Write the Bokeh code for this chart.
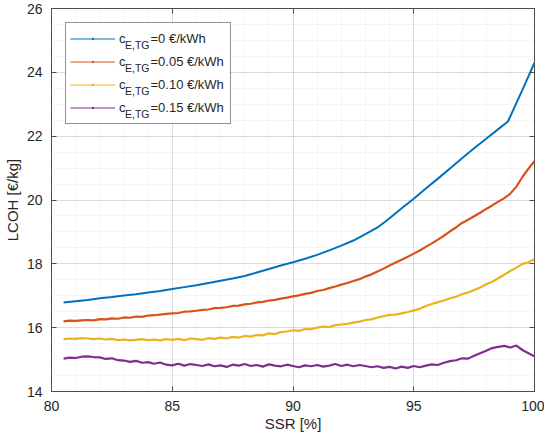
from bokeh.plotting import figure
from bokeh.models import (Range1d, SingleIntervalTicker, LinearAxis, CustomJSTickFormatter,
                          Legend, LegendItem, Label, BoxAnnotation)
from bokeh.embed import file_html
from bokeh.resources import INLINE

# ---------------- data ----------------
ssr_blue = [80.5, 81, 81.5, 82, 82.5, 83, 83.5, 84, 84.5, 85, 85.5, 86, 86.5, 87, 87.5, 88,
            88.5, 89, 89.5, 90, 90.5, 91, 91.5, 92, 92.5, 93, 93.5, 93.8, 94, 94.5, 95, 95.5,
            96, 96.5, 97, 97.5, 98, 98.5, 98.9, 99.5, 100]
lcoh_000 = [16.79, 16.83, 16.87, 16.92, 16.96, 17.01, 17.05, 17.10, 17.15, 17.21, 17.27, 17.33,
            17.40, 17.47, 17.54, 17.62, 17.73, 17.84, 17.95, 18.05, 18.16, 18.28, 18.42, 18.57,
            18.73, 18.93, 19.14, 19.31, 19.43, 19.74, 20.04, 20.36, 20.67, 20.99, 21.31, 21.62,
            21.92, 22.22, 22.46, 23.45, 24.30]

ssr = [80.5, 80.75, 81, 81.25, 81.5, 81.75, 82, 82.25, 82.5, 82.75, 83, 83.25, 83.5, 83.75,
       84, 84.25, 84.5, 84.75, 85, 85.25, 85.5, 85.75, 86, 86.25, 86.5, 86.75, 87, 87.25,
       87.5, 87.75, 88, 88.25, 88.5, 88.75, 89, 89.25, 89.5, 89.75, 90, 90.25, 90.5, 90.75,
       91, 91.25, 91.5, 91.75, 92, 92.25, 92.5, 92.75, 93, 93.25, 93.5, 93.75, 94, 94.25,
       94.5, 94.75, 95, 95.25, 95.5, 95.75, 96, 96.25, 96.5, 96.75, 97, 97.25, 97.5, 97.75,
       98, 98.25, 98.5, 98.75, 99, 99.25, 99.5, 99.75, 100]

lcoh_005 = [16.20, 16.22, 16.21, 16.23, 16.24, 16.23, 16.27, 16.26, 16.29, 16.28, 16.32, 16.31,
            16.35, 16.34, 16.38, 16.39, 16.41, 16.43, 16.45, 16.46, 16.50, 16.51, 16.53, 16.56,
            16.57, 16.61, 16.62, 16.64, 16.68, 16.69, 16.73, 16.75, 16.79, 16.81, 16.85, 16.87,
            16.91, 16.94, 16.98, 17.01, 17.06, 17.09, 17.15, 17.18, 17.24, 17.29, 17.35, 17.40,
            17.46, 17.52, 17.60, 17.67, 17.76, 17.85, 17.95, 18.04, 18.13, 18.22, 18.32, 18.42,
            18.53, 18.64, 18.76, 18.88, 19.02, 19.14, 19.28, 19.38, 19.49, 19.60, 19.72, 19.83,
            19.95, 20.06, 20.20, 20.42, 20.72, 20.98, 21.22]

lcoh_010 = [15.64, 15.66, 15.65, 15.67, 15.66, 15.64, 15.66, 15.63, 15.65, 15.61, 15.63, 15.60,
            15.62, 15.64, 15.61, 15.63, 15.60, 15.64, 15.62, 15.65, 15.61, 15.66, 15.64, 15.62,
            15.67, 15.65, 15.69, 15.66, 15.71, 15.69, 15.74, 15.72, 15.77, 15.76, 15.82, 15.80,
            15.86, 15.88, 15.92, 15.90, 15.96, 15.95, 16.00, 16.03, 16.02, 16.08, 16.10, 16.12,
            16.16, 16.19, 16.24, 16.26, 16.32, 16.36, 16.40, 16.41, 16.45, 16.49, 16.54, 16.59,
            16.68, 16.74, 16.80, 16.85, 16.92, 16.97, 17.05, 17.10, 17.18, 17.26, 17.36, 17.44,
            17.55, 17.66, 17.78, 17.88, 18.00, 18.05, 18.14]

lcoh_015 = [15.03, 15.06, 15.05, 15.09, 15.10, 15.08, 15.07, 15.02, 15.04, 14.98, 14.97, 14.93,
            14.96, 14.90, 14.92, 14.87, 14.91, 14.84, 14.82, 14.87, 14.81, 14.86, 14.83, 14.80,
            14.85, 14.79, 14.82, 14.77, 14.84, 14.81, 14.86, 14.80, 14.83, 14.78, 14.85, 14.81,
            14.79, 14.84, 14.80, 14.76, 14.82, 14.79, 14.83, 14.78, 14.81, 14.86, 14.80, 14.84,
            14.79, 14.83, 14.80, 14.76, 14.79, 14.74, 14.77, 14.72, 14.78, 14.74, 14.80, 14.76,
            14.81, 14.85, 14.83, 14.90, 14.95, 14.98, 15.04, 15.03, 15.12, 15.20, 15.28, 15.36,
            15.40, 15.43, 15.38, 15.44, 15.30, 15.20, 15.10]

legend_main = ["=0 €/kWh", "=0.05 €/kWh", "=0.10 €/kWh", "=0.15 €/kWh"]
legend_sub = "E,TG"
colors = ["#0072BD", "#D95319", "#EDB120", "#7E2F8E"]

x_ticks_interval = 5
y_ticks_interval = 2

# ---------------- figure ----------------
FONT = "Liberation Sans"
TXT = "#262626"
AXC = "#4d4d4d"

FW, FH = 483, 383
TOP = 8
p = figure(frame_width=FW, frame_height=FH, output_backend="svg", toolbar_location=None,
           x_range=Range1d(80, 100), y_range=Range1d(14, 26),
           min_border_left=41, min_border_right=10, min_border_top=TOP, min_border_bottom=40,
           background_fill_color="white", border_fill_color="white")

p.outline_line_color = AXC
p.outline_line_width = 1

xt = SingleIntervalTicker(interval=x_ticks_interval, num_minor_ticks=5)
yt = SingleIntervalTicker(interval=y_ticks_interval, num_minor_ticks=4)
p.xaxis.ticker = xt
p.yaxis.ticker = yt

for ax in (p.xaxis[0], p.yaxis[0]):
    ax.major_tick_in = 5
    ax.major_tick_out = 0
    ax.minor_tick_line_color = None
    ax.axis_line_color = AXC
    ax.major_tick_line_color = AXC
    ax.major_label_text_font = FONT
    ax.major_label_text_font_size = "14px"
    ax.major_label_text_color = TXT
    ax.axis_label_text_font = FONT
    ax.axis_label_text_font_size = "15px"
    ax.axis_label_text_font_style = "normal"
    ax.axis_label_text_color = TXT

p.xaxis.axis_label = "SSR [%]"
p.yaxis.axis_label = "LCOH [€/kg]"
p.xaxis.major_label_standoff = 5
p.xaxis.axis_label_standoff = 1
p.yaxis.major_label_standoff = 5
p.yaxis.axis_label_standoff = 3

for side, tk in (("right", yt), ("above", xt)):
    ax = LinearAxis(ticker=tk, formatter=CustomJSTickFormatter(code="return ''"),
                    major_tick_in=5, major_tick_out=0, minor_tick_line_color=None,
                    axis_line_color=None, major_tick_line_color=AXC,
                    major_label_standoff=0)
    p.add_layout(ax, side)

for g in (p.xgrid[0], p.ygrid[0]):
    g.grid_line_color = "#262626"
    g.grid_line_alpha = 0.13
    g.minor_grid_line_color = "#262626"
    g.minor_grid_line_alpha = 0.10
    g.minor_grid_line_dash = "1 2"

# data lines
p.line(ssr_blue, lcoh_000, line_color=colors[0], line_width=2)
p.line(ssr, lcoh_005, line_color=colors[1], line_width=2.2)
p.line(ssr, lcoh_010, line_color=colors[2], line_width=2.2)
p.line(ssr, lcoh_015, line_color=colors[3], line_width=2.2)

# ---------------- legend ----------------
LEG_M = 14
LEG_PAD = 4
ROW_H = 23
GLYPH_W = 45
STANDOFF = 4
LABEL_W = 107
N = len(colors)
leg_w = 2 * LEG_PAD + GLYPH_W + STANDOFF + LABEL_W
leg_h = 2 * LEG_PAD + N * ROW_H

# white background of the legend box (legend itself is drawn transparent on top)
p.add_layout(BoxAnnotation(left=LEG_M, right=LEG_M + leg_w, top=TOP + LEG_M,
                           bottom=TOP + LEG_M + leg_h,
                           left_units="screen", right_units="screen",
                           top_units="canvas", bottom_units="canvas",
                           fill_color="white", fill_alpha=1.0, line_color=None,
                           level="annotation"))

c_x = LEG_M + LEG_PAD + GLYPH_W + STANDOFF
for i, txt in enumerate(legend_main):
    yc = TOP + LEG_M + LEG_PAD + ROW_H / 2 + ROW_H * i
    p.add_layout(Label(x=c_x + 6.5, y=yc + 6.5, x_units="screen", y_units="canvas",
                       text=legend_sub, text_font=FONT, text_font_size="10.5px",
                       text_color=TXT, text_baseline="middle", text_align="left",
                       level="annotation"))
    p.add_layout(Label(x=c_x + 32, y=yc, x_units="screen", y_units="canvas", text=txt,
                       text_font=FONT, text_font_size="13px", text_color=TXT,
                       text_baseline="middle", text_align="left", level="annotation"))

nan = float("nan")
items = []
for c in colors:
    lr = p.line(x=[nan], y=[nan], line_color=c, line_width=1)
    sr = p.scatter(x=[nan], y=[nan], marker="dot", size=3, line_color=c, line_width=2)
    items.append(LegendItem(label="c", renderers=[lr, sr]))

legend = Legend(items=items, location="top_left", orientation="vertical",
                padding=LEG_PAD, spacing=0, margin=LEG_M,
                glyph_width=GLYPH_W, glyph_height=ROW_H, label_height=ROW_H,
                label_width=LABEL_W, label_standoff=STANDOFF,
                label_text_font=FONT, label_text_font_size="13px", label_text_color=TXT,
                border_line_color="#262626", border_line_width=1,
                background_fill_alpha=0.0)
p.add_layout(legend, "center")

open("out.html", "w").write(file_html(p, INLINE))
